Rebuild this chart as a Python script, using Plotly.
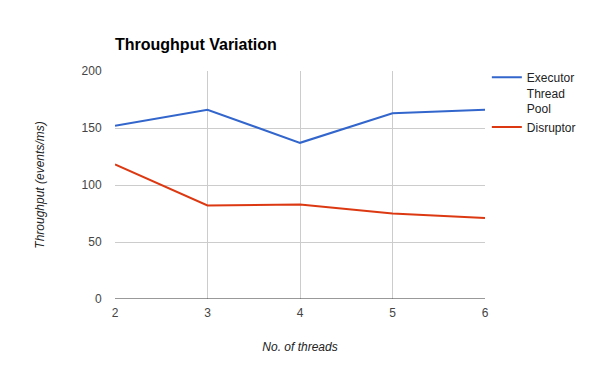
import plotly.graph_objects as go

threads = [2, 3, 4, 5, 6]
executor = [152, 166, 137, 163, 166]
disruptor = [118, 82, 83, 75, 71]
y_ticks = [0, 50, 100, 150, 200]

fig = go.Figure()
fig.add_trace(go.Scatter(x=threads, y=executor, mode="lines", name="Executor<br>Thread<br>Pool",
                         line=dict(color="#3366cc", width=2)))
fig.add_trace(go.Scatter(x=threads, y=disruptor, mode="lines", name="Disruptor",
                         line=dict(color="#dc3912", width=2)))

fig.update_layout(
    width=600, height=371,
    margin=dict(l=115, r=115, t=71, b=72, autoexpand=False),
    paper_bgcolor="white", plot_bgcolor="white",
    font=dict(family="Liberation Sans, Arial, sans-serif", size=12, color="#222"),
    title=dict(text="<b>Throughput Variation</b>", x=115/600, xanchor="left", y=1-44/371, yanchor="middle",
               font=dict(size=16, color="#000")),
    legend=dict(x=1.005, xanchor="left", y=1.035, yanchor="top", valign="top",
                font=dict(size=12, color="#222"), tracegroupgap=2, itemwidth=30),
    xaxis=dict(range=[2, 6], tickvals=threads, showgrid=True, gridcolor="#cccccc", gridwidth=1,
               zeroline=False, showline=False, ticks="outside", ticklen=3, tickcolor="rgba(0,0,0,0)",
               tickfont=dict(color="#444"), automargin=False,
               title=dict(text="<i>No. of threads</i>", font=dict(size=12, color="#222"), standoff=23)),
    yaxis=dict(range=[0, 200], tickvals=y_ticks, showgrid=True, gridcolor="#cccccc", gridwidth=1,
               zeroline=False, showline=False, ticks="outside", ticklen=10, tickcolor="rgba(0,0,0,0)",
               tickfont=dict(color="#444"), automargin=False,
               title=dict(text="<i>Throughput (events/ms)</i>", font=dict(size=12, color="#222"), standoff=34)),
)
fig.add_hline(y=0, line=dict(color="#333333", width=1))
fig.write_html("out.html", post_script="document.body.style.margin='0';",
               config={"displayModeBar": False})
